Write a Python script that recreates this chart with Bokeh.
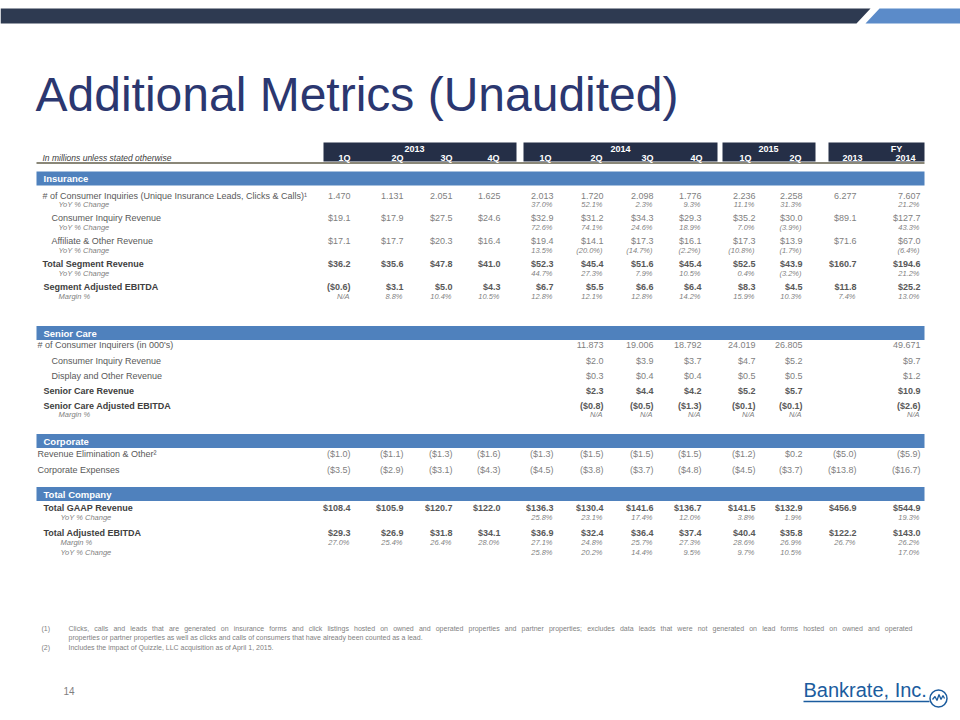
from bokeh.plotting import figure
from bokeh.models import ColumnDataSource, Range1d
from bokeh.embed import file_html
from bokeh.resources import INLINE
from bokeh.core.properties import value

# ---------------- data ----------------
year_groups = ["2013", "2014", "2015", "FY"]
column_labels = ["1Q", "2Q", "3Q", "4Q", "1Q", "2Q", "3Q", "4Q", "1Q", "2Q", "2013", "2014"]

NA = "N/A"
# Insurance
ins_inquiries = [1.470, 1.131, 2.051, 1.625, 2.013, 1.720, 2.098, 1.776, 2.236, 2.258, 6.277, 7.607]
ins_inquiries_yoy = [None, None, None, None, 37.0, 52.1, 2.3, 9.3, 11.1, 31.3, None, 21.2]
ins_ci_revenue = [19.1, 17.9, 27.5, 24.6, 32.9, 31.2, 34.3, 29.3, 35.2, 30.0, 89.1, 127.7]
ins_ci_revenue_yoy = [None, None, None, None, 72.6, 74.1, 24.6, 18.9, 7.0, -3.9, None, 43.3]
ins_affiliate = [17.1, 17.7, 20.3, 16.4, 19.4, 14.1, 17.3, 16.1, 17.3, 13.9, 71.6, 67.0]
ins_affiliate_yoy = [None, None, None, None, 13.5, -20.0, -14.7, -2.2, -10.8, -1.7, None, -6.4]
ins_total_rev = [36.2, 35.6, 47.8, 41.0, 52.3, 45.4, 51.6, 45.4, 52.5, 43.9, 160.7, 194.6]
ins_total_rev_yoy = [None, None, None, None, 44.7, 27.3, 7.9, 10.5, 0.4, -3.2, None, 21.2]
ins_ebitda = [-0.6, 3.1, 5.0, 4.3, 6.7, 5.5, 6.6, 6.4, 8.3, 4.5, 11.8, 25.2]
ins_margin = [NA, 8.8, 10.4, 10.5, 12.8, 12.1, 12.8, 14.2, 15.9, 10.3, 7.4, 13.0]
# Senior Care
sc_inquirers = [None, None, None, None, None, 11.873, 19.006, 18.792, 24.019, 26.805, None, 49.671]
sc_ci_revenue = [None, None, None, None, None, 2.0, 3.9, 3.7, 4.7, 5.2, None, 9.7]
sc_display = [None, None, None, None, None, 0.3, 0.4, 0.4, 0.5, 0.5, None, 1.2]
sc_revenue = [None, None, None, None, None, 2.3, 4.4, 4.2, 5.2, 5.7, None, 10.9]
sc_ebitda = [None, None, None, None, None, -0.8, -0.5, -1.3, -0.1, -0.1, None, -2.6]
sc_margin = [None, None, None, None, None, NA, NA, NA, NA, NA, None, NA]
# Corporate
corp_rev_elim = [-1.0, -1.1, -1.3, -1.6, -1.3, -1.5, -1.5, -1.5, -1.2, 0.2, -5.0, -5.9]
corp_expenses = [-3.5, -2.9, -3.1, -4.3, -4.5, -3.8, -3.7, -4.8, -4.5, -3.7, -13.8, -16.7]
# Total company
tot_gaap_rev = [108.4, 105.9, 120.7, 122.0, 136.3, 130.4, 141.6, 136.7, 141.5, 132.9, 456.9, 544.9]
tot_gaap_rev_yoy = [None, None, None, None, 25.8, 23.1, 17.4, 12.0, 3.8, 1.9, None, 19.3]
tot_ebitda = [29.3, 26.9, 31.8, 34.1, 36.9, 32.4, 36.4, 37.4, 40.4, 35.8, 122.2, 143.0]
tot_ebitda_margin = [27.0, 25.4, 26.4, 28.0, 27.1, 24.8, 25.7, 27.3, 28.6, 26.9, 26.7, 26.2]
tot_ebitda_yoy = [None, None, None, None, 25.8, 20.2, 14.4, 9.5, 9.7, 10.5, None, 17.0]

title = "Additional Metrics (Unaudited)"
units_note = "In millions unless stated otherwise"
footnote1 = ("Clicks, calls and leads that are generated on insurance forms and click listings hosted on owned and operated "
             "properties and partner properties; excludes data leads that were not generated on lead forms hosted on owned and operated")
footnote1b = "properties or partner properties as well as clicks and calls of consumers that have already been counted as a lead."
footnote2 = "Includes the impact of Quizzle, LLC acquisition as of April 1, 2015."

# ---------------- layout ----------------
FONT = "Liberation Sans"
col_right = [350, 403, 452, 500, 553, 603, 653, 701, 755, 802, 856, 920]
col_head_x = [344, 397, 446, 493, 545, 596, 647, 696, 745, 795, 852, 905]
group_boxes = [(323, 516), (523, 717), (722, 815), (828, 924)]
group_label_x = [414, 620, 768, 896]
TABLE_L, TABLE_R = 36, 924

p = figure(width=960, height=720, x_range=Range1d(0, 960), y_range=Range1d(720, 0),
           output_backend="svg", toolbar_location=None, min_border=0,
           x_axis_location=None, y_axis_location=None)
p.grid.visible = False
p.outline_line_color = None
p.background_fill_color = "white"
p.border_fill_color = "white"


def add_text(xs, ys, texts, size, color, style="normal", align="left", baseline="middle"):
    src = ColumnDataSource(dict(x=xs, y=ys, text=texts))
    p.text(x="x", y="y", text="text", source=src, text_font=value(FONT),
           text_font_size=f"{size}px", text_color=color, text_font_style=style,
           text_align=align, text_baseline=baseline)


def fmt(v, kind):
    if v is None:
        return None
    if isinstance(v, str):
        return v
    if kind == "num3":
        return f"{v:.3f}"
    if kind == "usd":
        return f"${v:.1f}" if v >= 0 else f"(${-v:.1f})"
    return f"{v:.1f}%" if v >= 0 else f"({-v:.1f}%)"


# top banner
p.patch([0, 870, 856, 0], [8, 8, 23, 23], fill_color="#2E3A51", line_color=None)
p.patch([879, 960, 960, 865], [8, 8, 23, 23], fill_color="#5B8BC9", line_color=None)

# title
add_text([35], [94], [title], 48, "#2B3770")

# header boxes
p.quad(left=[b[0] for b in group_boxes], right=[b[1] for b in group_boxes],
       top=[142] * 4, bottom=[161] * 4, fill_color="#252F47", line_color=None)
p.segment(x0=[TABLE_L], y0=[162.5], x1=[TABLE_R], y1=[162.5], line_color="#8A8778", line_width=2)
add_text(group_label_x, [148] * 4, year_groups, 9, "white", "bold", "center")
add_text(col_head_x, [157] * 12, column_labels, 9, "white", "bold", "center")
add_text([42], [157], [units_note], 8.5, "#404040", "italic")

# section bands
bands = [("Insurance", 178), ("Senior Care", 332.5), ("Corporate", 440.5), ("Total Company", 493.5)]
p.quad(left=[TABLE_L] * 4, right=[TABLE_R] * 4, top=[b[1] - 7 for b in bands],
       bottom=[b[1] + 7 for b in bands], fill_color="#4F81BD", line_color=None)
add_text([43] * 4, [b[1] for b in bands], [b[0] for b in bands], 9.5, "white", "bold")

# rows: label, label x, y, style, values, kind
rows = [
    ("# of Consumer Inquiries (Unique Insurance Leads, Clicks & Calls)\u00b9", 42, 195, "reg", ins_inquiries, "num3"),
    ("YoY % Change", 58, 204, "pct", ins_inquiries_yoy, "pct"),
    ("Consumer Inquiry Revenue", 51, 217, "reg", ins_ci_revenue, "usd"),
    ("YoY % Change", 58, 227, "pct", ins_ci_revenue_yoy, "pct"),
    ("Affiliate & Other Revenue", 51, 240, "reg", ins_affiliate, "usd"),
    ("YoY % Change", 58, 250, "pct", ins_affiliate_yoy, "pct"),
    ("Total Segment Revenue", 42, 263, "bold", ins_total_rev, "usd"),
    ("YoY % Change", 58, 273, "pct", ins_total_rev_yoy, "pct"),
    ("Segment Adjusted EBITDA", 43, 286, "bold", ins_ebitda, "usd"),
    ("Margin %", 58, 296, "pct", ins_margin, "pct"),
    ("# of Consumer Inquirers (in 000's)", 37, 344, "reg", sc_inquirers, "num3"),
    ("Consumer Inquiry Revenue", 51, 360, "reg", sc_ci_revenue, "usd"),
    ("Display and Other Revenue", 51, 375, "reg", sc_display, "usd"),
    ("Senior Care Revenue", 43, 390, "bold", sc_revenue, "usd"),
    ("Senior Care Adjusted EBITDA", 43, 405, "bold", sc_ebitda, "usd"),
    ("Margin %", 58, 414, "pct", sc_margin, "pct"),
    ("Revenue Elimination & Other\u00b2", 37, 453, "reg", corp_rev_elim, "usd"),
    ("Corporate Expenses", 37, 469, "reg", corp_expenses, "usd"),
    ("Total GAAP Revenue", 43, 507, "bold", tot_gaap_rev, "usd"),
    ("YoY % Change", 60, 517, "pct", tot_gaap_rev_yoy, "pct"),
    ("Total Adjusted EBITDA", 43, 532, "bold", tot_ebitda, "usd"),
    ("Margin %", 60, 542, "pct", tot_ebitda_margin, "pct"),
    ("YoY % Change", 60, 552, "pct", tot_ebitda_yoy, "pct"),
]

styles = {
    "reg": dict(lsize=9, lcolor="#595959", lstyle="normal", vsize=9, vcolor="#7F7F7F", vstyle="normal", dx=0),
    "bold": dict(lsize=9, lcolor="#404040", lstyle="bold", vsize=9, vcolor="#595959", vstyle="bold", dx=0),
    "pct": dict(lsize=7.5, lcolor="#7F7F7F", lstyle="italic", vsize=7.5, vcolor="#7F7F7F", vstyle="italic", dx=-1),
}

for key, st in styles.items():
    sel = [r for r in rows if r[3] == key]
    add_text([r[1] for r in sel], [r[2] for r in sel], [r[0] for r in sel],
             st["lsize"], st["lcolor"], st["lstyle"])
    vx, vy, vt = [], [], []
    for r in sel:
        for i, v in enumerate(r[4]):
            t = fmt(v, r[5])
            if t is None:
                continue
            vx.append(col_right[i] + st["dx"])
            vy.append(r[2])
            vt.append(t)
    add_text(vx, vy, vt, st["vsize"], st["vcolor"], st["vstyle"], "right")

# ---------------- footnotes ----------------
W = {' ': 278, '(': 333, ')': 333, ',': 278, '.': 278, ';': 278, ':': 278, "'": 191, '-': 333, '&': 667,
     'a': 556, 'b': 556, 'c': 500, 'd': 556, 'e': 556, 'f': 278, 'g': 556, 'h': 556, 'i': 222, 'j': 222,
     'k': 500, 'l': 222, 'm': 833, 'n': 556, 'o': 556, 'p': 556, 'q': 556, 'r': 333, 's': 500, 't': 278,
     'u': 556, 'v': 500, 'w': 722, 'x': 500, 'y': 500, 'z': 500, 'C': 722, 'I': 278, 'L': 556, 'Q': 778, 'A': 667}


def text_w(s, size):
    return sum(W.get(ch, 556) for ch in s) / 1000.0 * size


FN_SIZE = 7
FN_COLOR = "#7F7F7F"
fx0, fx1 = 68, 912
words = footnote1.split(" ")
total = sum(text_w(w, FN_SIZE) for w in words)
gap = (fx1 - fx0 - total) / (len(words) - 1)
wx, cur = [], fx0
for w in words:
    wx.append(cur)
    cur += text_w(w, FN_SIZE) + gap
add_text(wx, [628] * len(words), words, FN_SIZE, FN_COLOR)
add_text([68, 68], [637, 647], [footnote1b, footnote2], FN_SIZE, FN_COLOR)
add_text([41, 41], [628, 647], ["(1)", "(2)"], FN_SIZE, FN_COLOR)

# page number
add_text([63], [690], ["14"], 10, "#7F7F7F")

# logo
LOGO = "#1B5C9E"
add_text([803], [689], ["Bankrate, Inc."], 20, LOGO)
p.segment(x0=[803], y0=[701], x1=[929], y1=[701], line_color=LOGO, line_width=1.5)
p.scatter(x=[938], y=[698], size=17, marker="circle", fill_color=None, line_color=LOGO, line_width=1.5)
p.line(x=[932, 934.5, 936.5, 938.5, 940.5, 942.5, 944], y=[699, 696, 700, 694, 699, 695, 698],
       line_color=LOGO, line_width=1.3)

open("out.html", "w").write(file_html(p, INLINE))
